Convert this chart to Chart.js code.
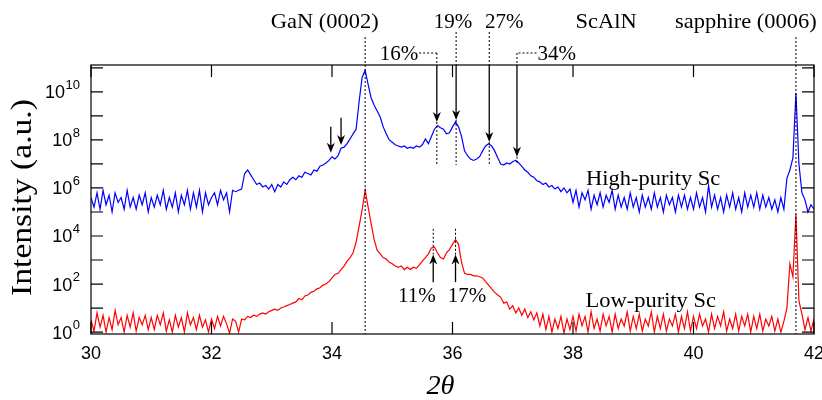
<!DOCTYPE html>
<html><head><meta charset="utf-8">
<script src="https://cdn.jsdelivr.net/npm/chart.js@4"></script>
<style>html,body{margin:0;padding:0;background:#fff}</style>
</head><body>
<canvas id="c" width="822" height="400"></canvas>
<script>
// 2θ (degrees)
const twoTheta = [
30,30.05,30.1,30.15,30.2,30.25,30.3,30.35,30.4,30.45,30.5,30.55,30.6,30.65,30.7,30.75,30.8,30.85,30.9,30.95,
31,31.05,31.1,31.15,31.2,31.25,31.3,31.35,31.4,31.45,31.5,31.55,31.6,31.65,31.7,31.75,31.8,31.85,31.9,31.95,
32,32.05,32.1,32.15,32.2,32.25,32.3,32.35,32.4,32.45,32.5,32.55,32.6,32.65,32.7,32.75,32.8,32.85,32.9,32.95,
33,33.05,33.1,33.15,33.2,33.25,33.3,33.35,33.4,33.45,33.5,33.55,33.6,33.65,33.7,33.75,33.8,33.85,33.9,33.95,
34,34.05,34.1,34.15,34.2,34.25,34.3,34.35,34.4,34.45,34.5,34.55,34.6,34.65,34.7,34.75,34.8,34.85,34.9,34.95,
35,35.05,35.1,35.15,35.2,35.25,35.3,35.35,35.4,35.45,35.5,35.55,35.6,35.65,35.7,35.75,35.8,35.85,35.9,35.95,
36,36.05,36.1,36.15,36.2,36.25,36.3,36.35,36.4,36.45,36.5,36.55,36.6,36.65,36.7,36.75,36.8,36.85,36.9,36.95,
37,37.05,37.1,37.15,37.2,37.25,37.3,37.35,37.4,37.45,37.5,37.55,37.6,37.65,37.7,37.75,37.8,37.85,37.9,37.95,
38,38.05,38.1,38.15,38.2,38.25,38.3,38.35,38.4,38.45,38.5,38.55,38.6,38.65,38.7,38.75,38.8,38.85,38.9,38.95,
39,39.05,39.1,39.15,39.2,39.25,39.3,39.35,39.4,39.45,39.5,39.55,39.6,39.65,39.7,39.75,39.8,39.85,39.9,39.95,
40,40.05,40.1,40.15,40.2,40.25,40.3,40.35,40.4,40.45,40.5,40.55,40.6,40.65,40.7,40.75,40.8,40.85,40.9,40.95,
41,41.05,41.1,41.15,41.2,41.25,41.3,41.35,41.4,41.45,41.5,41.55,41.6,41.65,41.7,41.75,41.8,41.85,41.9,41.95,
42];

// Intensity (a.u.) — high-purity Sc sample (blue)
const highPuritySc = [
4e5,1.6e5,6.3e5,1.3e5,8e5,2e5,5e5,1e5,6.3e5,2.5e5,4e5,1.3e5,8e5,1.6e5,4e5,1.3e5,5e5,2e5,6.3e5,1e5,
4e5,1.6e5,5e5,2e5,8e5,1.3e5,4e5,1.6e5,6.3e5,1e5,5e5,2e5,8e5,1.3e5,6.3e5,1.6e5,8e5,1e5,6.3e5,2e5,
4e5,6.3e5,2e5,8e5,3.2e5,6.3e5,1e5,8e5,7e5,8e5,9e5,4e6,5.6e6,3.5e6,2.2e6,1.4e6,1.6e6,1.1e6,1.26e6,9e5,
1.4e6,7e5,1.4e6,1.1e6,1.8e6,1.4e6,2.2e6,2.8e6,2.2e6,3.2e6,2.8e6,4.5e6,4e6,3.5e6,5.6e6,5e6,8e6,9e6,1.1e7,1.4e7,
2e7,1.6e7,2.2e7,4.5e7,5e7,7e7,1.1e8,1.8e8,2.8e8,4e9,4e10,8e10,2e10,5.6e9,2.8e9,1.6e9,9e8,3.5e8,1.8e8,1e8,
8e7,6.3e7,5.6e7,5e7,5.6e7,4.5e7,5e7,4.5e7,5.6e7,5e7,6.3e7,1.1e8,7e7,1.4e8,2.8e8,4e8,3.2e8,2.8e8,1.8e8,2e8,
3.5e8,5.6e8,3.5e8,1.4e8,3.5e7,2.2e7,1.6e7,1.4e7,1.6e7,2e7,3.5e7,5.6e7,7e7,5.6e7,3.5e7,1.8e7,1e7,9e6,1.1e7,1e7,
1.26e7,1.4e7,1.1e7,8e6,5.6e6,4.5e6,3.2e6,2.8e6,2e6,1.8e6,1.4e6,1.6e6,1.1e6,1.26e6,9e5,1.1e6,7e5,1e6,6.3e5,9e5,
2.5e5,8e5,1.6e5,6.3e5,3.2e5,8e5,1.3e5,5e5,2e5,6.3e5,1.6e5,5e5,2.5e5,8e5,1.3e5,5e5,1.6e5,4e5,1.3e5,6.3e5,
1.6e5,4e5,1e5,5e5,1.6e5,4e5,1.3e5,6.3e5,1.6e5,4e5,1e5,5e5,2e5,4e5,1e5,5e5,1.6e5,5e5,1.3e5,4e5,
1.3e5,6.3e5,1.6e5,4e5,1e5,1.26e6,1.6e5,5e5,1.3e5,4e5,1e5,5e5,1.6e5,6.3e5,1.3e5,4e5,1e5,6.3e5,1.6e5,5e5,
1.6e5,6.3e5,1.3e5,5e5,1.6e5,4e5,1.3e5,3.2e5,1e5,4e5,1.3e5,2.5e6,5.6e6,1.8e7,9e9,1e7,6.3e5,3.2e5,1e5,2e5,
1.3e5];

// Intensity (a.u.) — low-purity Sc sample (red)
const lowPuritySc = [
3.2,1.1,6.3,1.6,5,1,4,1.26,8,2,4,1,5,1.6,6.3,1.1,4,2,5,1.26,
4,1.26,5,2,6.3,1.1,3.2,1,5,1.6,4,1,6.3,2,4,1.26,5,1.6,3.2,1,
3.5,1.4,4.5,1.8,4.5,2.2,0.9,3.5,2.8,1,3.5,3.2,4.5,4,5,4.5,5.6,6.3,5.6,7,
8,9,8,10,11,12.6,14,16,18,25,22,32,35,45,50,63,70,90,100,126,
180,250,280,400,560,900,1260,2000,5600,2.5e4,1.26e5,8e5,1.6e5,3.2e4,7000,2500,1800,1260,1100,800,
700,560,500,560,400,500,400,500,450,630,900,1260,1800,3200,3500,2000,1260,1100,2000,2800,
4500,7000,4500,800,280,250,250,220,220,200,180,126,90,63,45,35,28,16,18,9,
12.6,6.3,10,5,9,4,7,3.2,6.3,1.8,5.6,1.26,4.5,1,3.5,1.4,4.5,0.9,3.5,1.26,
4.5,1.1,5.6,1.8,4.5,1,7,1.4,3.5,1.1,5.6,1.8,4.5,1,5.6,1.4,3.5,1.8,7,1.1,
4.5,1.4,5.6,1.1,3.5,1.8,7,1,4.5,1.4,5.6,1.1,3.5,1.8,5.6,1,4.5,1.4,7,1.1,
4.5,1.4,5.6,1.8,3.5,1,5.6,1.4,4.5,1.8,7,1.1,3.5,1.4,5.6,1.1,4.5,1.8,5.6,1,
4.5,1.4,5.6,1.1,3.5,1.8,4.5,1.1,3.5,1,2.8,10,700,200,8e4,20,5.6,1.26,4,1.1,
3.5];

const xTicks = [30,32,34,36,38,40,42];
const yTickExponents = [0,1,2,3,4,5,6,7,8,9,10,11];
const yLabelExponents = [0,2,4,6,8,10];

// reference lines & annotations (x in 2θ, y in intensity)
const refLines = [
  {text:'GaN (0002)', x:34.55, labelX:33.88},
  {text:'sapphire (0006)', x:41.70, labelX:40.87}
];
const highMarkers = [
  {text:'16%', x:35.74, tip:5.6e8, labelX:35.11, row:2, side:'left'},
  {text:'19%', x:36.06, tip:6.8e8, labelX:36.01, row:1},
  {text:'27%', x:36.61, tip:8.3e7, labelX:36.86, row:1},
  {text:'34%', x:37.07, tip:2e7,   labelX:37.73, row:2, side:'right'}
];
const highDashBottom = 9e6;
const smallArrows = [
  {x:33.98, from:3.5e8, tip:2.9e7},
  {x:34.15, from:8.3e8, tip:6.2e7}
];
const lowMarkers = [
  {text:'11%', x:35.68, labelX:35.41},
  {text:'17%', x:36.05, labelX:36.24}
];
const lowDashTop = 2e4, lowTip = 1700, lowTail = 120, lowLabelY = 18;
const sampleLabels = [
  {text:'High-purity Sc', x:39.33, y:1.33e6},
  {text:'Low-purity Sc',  x:39.29, y:11}
];
const scAlNLabel = {text:'ScAlN', x:38.55};

const SERIF = '"Liberation Serif", "Times New Roman", serif';
const SANS = '"Liberation Sans", Arial, sans-serif';

function stext(ctx, s, x, y, size, sx, opts) {
  opts = opts || {};
  ctx.save();
  ctx.font = (opts.italic ? 'italic ' : '') + size + 'px ' + SERIF;
  ctx.translate(x, y);
  if (opts.rot) ctx.rotate(opts.rot);
  ctx.scale(sx, 1);
  ctx.textAlign = opts.align || 'center';
  ctx.textBaseline = 'alphabetic';
  ctx.fillStyle = '#000';
  ctx.fillText(s, 0, 0);
  const w = ctx.measureText(s).width * sx;
  ctx.restore();
  return w;
}
function dotted(ctx, x1, y1, x2, y2) {
  ctx.save(); ctx.setLineDash([2, 2]); ctx.lineWidth = 1; ctx.strokeStyle = '#000';
  ctx.beginPath(); ctx.moveTo(x1, y1); ctx.lineTo(x2, y2); ctx.stroke(); ctx.restore();
}
function arrow(ctx, x, yFrom, yTip) {
  const dir = yTip > yFrom ? 1 : -1, L = 10, W = 4;
  ctx.save(); ctx.setLineDash([]); ctx.lineWidth = 1.3; ctx.strokeStyle = '#000'; ctx.fillStyle = '#000';
  ctx.beginPath(); ctx.moveTo(x, yFrom); ctx.lineTo(x, yTip - dir * L * 0.6); ctx.stroke();
  ctx.beginPath(); ctx.moveTo(x, yTip); ctx.lineTo(x - W, yTip - dir * L); ctx.lineTo(x, yTip - dir * L * 0.7);
  ctx.lineTo(x + W, yTip - dir * L); ctx.closePath(); ctx.fill();
  ctx.restore();
}

const decor = {
  id: 'decor',
  afterDatasetsDraw(chart) {
    const ctx = chart.ctx, a = chart.chartArea;
    const xs = chart.scales.x, ys = chart.scales.y;
    const X = v => xs.getPixelForValue(v), Y = v => ys.getPixelForValue(v);
    ctx.save();
    // frame
    ctx.strokeStyle = '#000'; ctx.lineWidth = 1.2;
    ctx.strokeRect(a.left, a.top, a.right - a.left, a.bottom - a.top);
    // inward ticks
    ctx.beginPath();
    xTicks.forEach(t => { const p = X(t);
      ctx.moveTo(p, a.bottom); ctx.lineTo(p, a.bottom - 12);
      ctx.moveTo(p, a.top); ctx.lineTo(p, a.top + 12); });
    yTickExponents.forEach(e => { const p = Y(Math.pow(10, e));
      ctx.moveTo(a.left, p); ctx.lineTo(a.left + 12, p);
      ctx.moveTo(a.right, p); ctx.lineTo(a.right - 12, p); });
    ctx.stroke();
    // x tick labels
    ctx.fillStyle = '#000'; ctx.font = '18px ' + SANS; ctx.textAlign = 'center'; ctx.textBaseline = 'alphabetic';
    xTicks.forEach(t => ctx.fillText(String(t), X(t), a.bottom + 24.5));
    // y tick labels 10^n
    const rx = a.left - 11;
    yLabelExponents.forEach(e => {
      const p = Y(Math.pow(10, e));
      ctx.font = '13px ' + SANS; const ws = ctx.measureText(String(e)).width;
      ctx.textAlign = 'left';
      ctx.fillText(String(e), rx - ws, p - 3);
      ctx.font = '18px ' + SANS; const wb = ctx.measureText('10').width;
      ctx.fillText('10', rx - ws - wb - 0.5, p + 6.5);
    });
    // axis titles
    stext(ctx, 'Intensity (a.u.)', 31, (a.top + a.bottom) / 2 - 2, 30, 1.12, {rot: -Math.PI / 2});
    stext(ctx, '2\u03B8', X(35.8), a.bottom + 60, 27, 1.05, {italic: true});

    const row1 = a.top - 37, row2 = a.top - 5, conn = a.top - 12;
    // reference lines
    refLines.forEach(r => {
      stext(ctx, r.text, X(r.labelX), row1, 21, 1.07);
      dotted(ctx, X(r.x), a.top - 28, X(r.x), a.bottom);
    });
    stext(ctx, scAlNLabel.text, X(scAlNLabel.x), row1, 21, 1.07);
    // high-purity composition markers
    highMarkers.forEach(m => {
      const px = X(m.x);
      if (m.row === 1) {
        stext(ctx, m.text, X(m.labelX), row1, 21, 1.0);
        dotted(ctx, px, a.top - 33, px, a.top);
      } else {
        const w = stext(ctx, m.text, X(m.labelX), row2, 21, 1.0);
        const edge = m.side === 'left' ? X(m.labelX) + w / 2 + 1 : X(m.labelX) - w / 2 - 1;
        dotted(ctx, edge, conn, px, conn);
        dotted(ctx, px, conn, px, a.top);
      }
      arrow(ctx, px, a.top, Y(m.tip));
      dotted(ctx, px, Y(m.tip), px, Y(highDashBottom));
    });
    smallArrows.forEach(s => arrow(ctx, X(s.x), Y(s.from), Y(s.tip)));
    // low-purity markers
    lowMarkers.forEach(m => {
      const px = X(m.x);
      dotted(ctx, px, Y(lowDashTop), px, Y(lowTip));
      arrow(ctx, px, Y(lowTail), Y(lowTip));
      stext(ctx, m.text, X(m.labelX), Y(lowLabelY), 21, 1.0);
    });
    sampleLabels.forEach(s => stext(ctx, s.text, X(s.x), Y(s.y), 21, 1.07));
    ctx.restore();
  }
};

new Chart(document.getElementById('c'), {
  type: 'line',
  data: {
    datasets: [
      {label: 'High-purity Sc', data: twoTheta.map((x, i) => ({x: x, y: highPuritySc[i]})),
       borderColor: '#0000ff', borderWidth: 1.2, pointRadius: 0, tension: 0, fill: false},
      {label: 'Low-purity Sc', data: twoTheta.map((x, i) => ({x: x, y: lowPuritySc[i]})),
       borderColor: '#ff0000', borderWidth: 1.2, pointRadius: 0, tension: 0, fill: false}
    ]
  },
  options: {
    responsive: false, animation: false, devicePixelRatio: 1,
    layout: {padding: {left: 91, right: 8, top: 65, bottom: 66}},
    plugins: {legend: {display: false}, tooltip: {enabled: false}},
    scales: {
      x: {type: 'linear', min: 30, max: 42, display: false},
      y: {type: 'logarithmic', min: 0.83, max: 1.32e11, display: false}
    }
  },
  plugins: [decor]
});
</script>
</body></html>
